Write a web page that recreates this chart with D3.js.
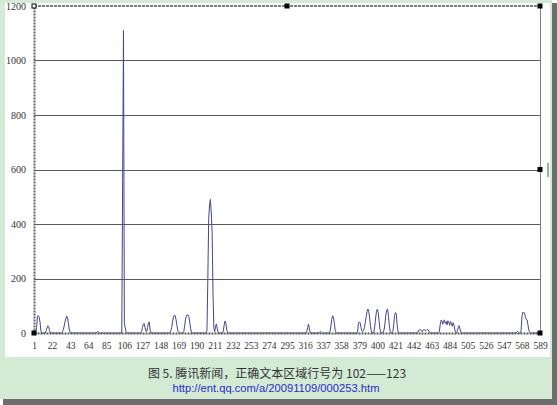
<!DOCTYPE html>
<html>
<head>
<meta charset="utf-8">
<script src="https://cdn.jsdelivr.net/npm/d3@7/dist/d3.min.js"></script>
<style>
  html, body { margin: 0; padding: 0; background: #ffffff; }
  svg { display: block; }
</style>
</head>
<body>
<svg id="chart" width="557" height="405"></svg>
<script>
// Text-block length per source line of the Tencent news page (lines 1..589).
// Lines not listed below carry a value of 0.
const lineCount = 589;
const activeLines = [
  4, 5, 6, 7, 8, 9,
  15, 16, 17, 18, 19,
  34, 35, 36, 37, 38, 39, 40, 41, 42, 43,
  74, 75, 76,
  104, 105, 106, 107, 108,
  126, 127, 128, 129, 130, 131, 132, 133, 134, 135, 136,
  159, 160, 161, 162, 163, 164, 165, 166, 167, 168, 169,
  175, 176, 177, 178, 179, 180, 181, 182, 183, 184,
  201, 202, 203, 204, 205, 206, 207, 208, 209, 210, 211,
  212, 213, 214, 215,
  221, 222, 223, 224, 225, 226,
  318, 319, 320, 321, 322,
  333, 334, 335,
  345, 346, 347, 348, 349, 350, 351, 352,
  377, 378, 379, 380, 381, 382, 383,
  384, 385, 386, 387, 388, 389, 390, 391, 392, 393,
  396, 397, 398, 399, 400, 401, 402, 403, 404,
  407, 408, 409, 410, 411, 412, 413, 414, 415,
  418, 419, 420, 421, 422, 423, 424,
  447, 448, 449, 450, 451, 452, 453, 454, 455, 456, 457, 458, 459, 460, 461,
  472, 473, 474, 475, 476, 477, 478, 479, 480, 481, 482, 483, 484, 485, 486, 487, 488, 489, 490, 491,
  493, 494, 495, 496, 497,
  562, 563, 564,
  567, 568, 569, 570, 571, 572, 573, 574, 575, 576, 577
];
const activeValues = [
  20, 60, 64, 58, 40, 8,
  8, 18, 26, 24, 10,
  5, 12, 25, 40, 52, 62, 55, 35, 12, 3,
  3, 5, 3,
  560, 1110, 35, 20, 5,
  5, 20, 32, 35, 20, 8, 5, 20, 38, 40, 10,
  3, 8, 20, 40, 58, 65, 64, 50, 30, 10, 3,
  5, 25, 50, 62, 67, 66, 60, 40, 15, 3,
  2, 10, 200, 420, 470, 490, 440, 370, 150, 20, 5,
  25, 33, 15, 3,
  8, 30, 44, 35, 10, 2,
  5, 20, 33, 15, 3,
  3, 6, 3,
  5, 25, 50, 63, 58, 35, 10, 2,
  2, 38, 39, 38, 20, 8, 5,
  8, 20, 40, 60, 78, 88, 80, 55, 25, 8,
  5, 25, 55, 80, 87, 75, 45, 15, 4,
  4, 15, 40, 70, 85, 87, 60, 25, 6,
  5, 30, 65, 75, 70, 30, 5,
  3, 10, 12, 12, 10, 5, 10, 12, 12, 8, 10, 13, 12, 5, 2,
  5, 30, 47, 45, 32, 45, 48, 35, 42, 30, 45, 40, 28, 42, 35, 25, 38, 30, 12, 3,
  8, 20, 27, 15, 4,
  3, 6, 3,
  8, 60, 76, 75, 74, 60, 50, 48, 30, 10, 3
];
const xTickLabels = [1, 22, 43, 64, 85, 106, 127, 148, 169, 190, 211, 232, 253, 274, 295,
  316, 337, 358, 379, 400, 421, 442, 463, 484, 505, 526, 547, 568, 589];
const yTickValues = [0, 200, 400, 600, 800, 1000, 1200];
const captionTitle = "图 5. 腾讯新闻，正确文本区域行号为 102——123";
const captionUrl = "http://ent.qq.com/a/20091109/000253.htm";

// Full series: one point per source line.
const valueByLine = new Map(activeLines.map((l, i) => [l, activeValues[i]]));
const series = d3.range(1, lineCount + 1).map(l => ({ line: l, value: valueByLine.get(l) || 0 }));

const svg = d3.select("#chart");

// Framed page: drop shadow, mint backing, white chart panel.
svg.append("rect").attr("x", 3).attr("y", 3).attr("width", 554).attr("height", 402).attr("fill", "#6d6d6d");
svg.append("rect").attr("x", 0).attr("y", 0).attr("width", 552).attr("height", 399).attr("fill", "#d3ead5");
svg.append("rect").attr("x", 5).attr("y", 3).attr("width", 545).attr("height", 354).attr("fill", "#ffffff");

const plot = { left: 34, right: 540, top: 6, bottom: 333 };
const x = d3.scaleLinear().domain([1, lineCount]).range([plot.left, plot.right]);
const y = d3.scaleLinear().domain([0, 1200]).range([plot.bottom, plot.top]);

// Horizontal gridlines
svg.append("g")
  .selectAll("line")
  .data(yTickValues.filter(v => v > 0 && v < 1200))
  .join("line")
  .attr("x1", plot.left).attr("x2", plot.right)
  .attr("y1", d => Math.round(y(d)) + 0.5).attr("y2", d => Math.round(y(d)) + 0.5)
  .attr("stroke", "#5a5a5a").attr("stroke-width", 1);

// Plot frame: dashed top edge, solid right edge
svg.append("line")
  .attr("x1", plot.left).attr("x2", plot.right)
  .attr("y1", y(1200)).attr("y2", y(1200))
  .attr("stroke", "#7a7a7a").attr("stroke-width", 2).attr("stroke-dasharray", "3,1");
svg.append("line")
  .attr("x1", plot.right + 0.5).attr("x2", plot.right + 0.5)
  .attr("y1", plot.top).attr("y2", plot.bottom)
  .attr("stroke", "#808080").attr("stroke-width", 1);

// Data line
const lineGen = d3.line().x(d => x(d.line)).y(d => y(d.value));
svg.append("path")
  .datum(series)
  .attr("d", lineGen)
  .attr("fill", "none")
  .attr("stroke", "#45458e")
  .attr("stroke-width", 1)
  .attr("stroke-linejoin", "round");

// Y axis
const yAxis = d3.axisLeft(y).tickValues(yTickValues).tickFormat(d3.format("d")).tickSize(0).tickPadding(8);
const gy = svg.append("g").attr("transform", `translate(${plot.left},0)`).call(yAxis);
gy.select(".domain").attr("stroke", "#666").attr("stroke-width", 2).attr("stroke-dasharray", "2,1");
gy.selectAll("text")
  .attr("font-family", "'Liberation Serif', serif")
  .attr("font-size", 10).attr("fill", "#333");

// X axis
const xAxis = d3.axisBottom(x).tickValues(xTickLabels).tickFormat(d3.format("d")).tickSize(0).tickPadding(9);
const gx = svg.append("g").attr("transform", `translate(0,${plot.bottom})`).call(xAxis);
gx.select(".domain").attr("stroke", "#555").attr("stroke-width", 2).attr("stroke-dasharray", "2,1");
gx.selectAll("text")
  .attr("font-family", "'Liberation Serif', serif")
  .attr("font-size", 9.5).attr("fill", "#333");

// Selection handles on the plot area
const handles = [
  [plot.left, plot.top, "#fff"], [(plot.left + plot.right) / 2, plot.top, "#000"],
  [plot.right, plot.top, "#000"], [plot.right, y(600), "#000"],
  [plot.left, plot.bottom, "#000"], [plot.right, plot.bottom, "#000"]
];
svg.append("g").selectAll("rect").data(handles).join("rect")
  .attr("x", d => d[0] - 2).attr("y", d => d[1] - 2)
  .attr("width", 4).attr("height", 4)
  .attr("fill", d => d[2]).attr("stroke", "#000").attr("stroke-width", 1);

// Small green grip on the right edge
svg.append("rect").attr("x", 547).attr("y", 163).attr("width", 2).attr("height", 14).attr("fill", "#86c192");

// Caption
svg.append("text")
  .attr("x", 277).attr("y", 378)
  .attr("text-anchor", "middle")
  .attr("font-family", "'Noto Sans CJK SC', sans-serif")
  .attr("font-size", 12).attr("fill", "#333")
  .text(captionTitle);
svg.append("text")
  .attr("x", 276).attr("y", 392)
  .attr("text-anchor", "middle")
  .attr("font-family", "'Liberation Sans', Arial, sans-serif")
  .attr("font-size", 11.2).attr("fill", "#2b2bc8")
  .text(captionUrl);
</script>
</body>
</html>
